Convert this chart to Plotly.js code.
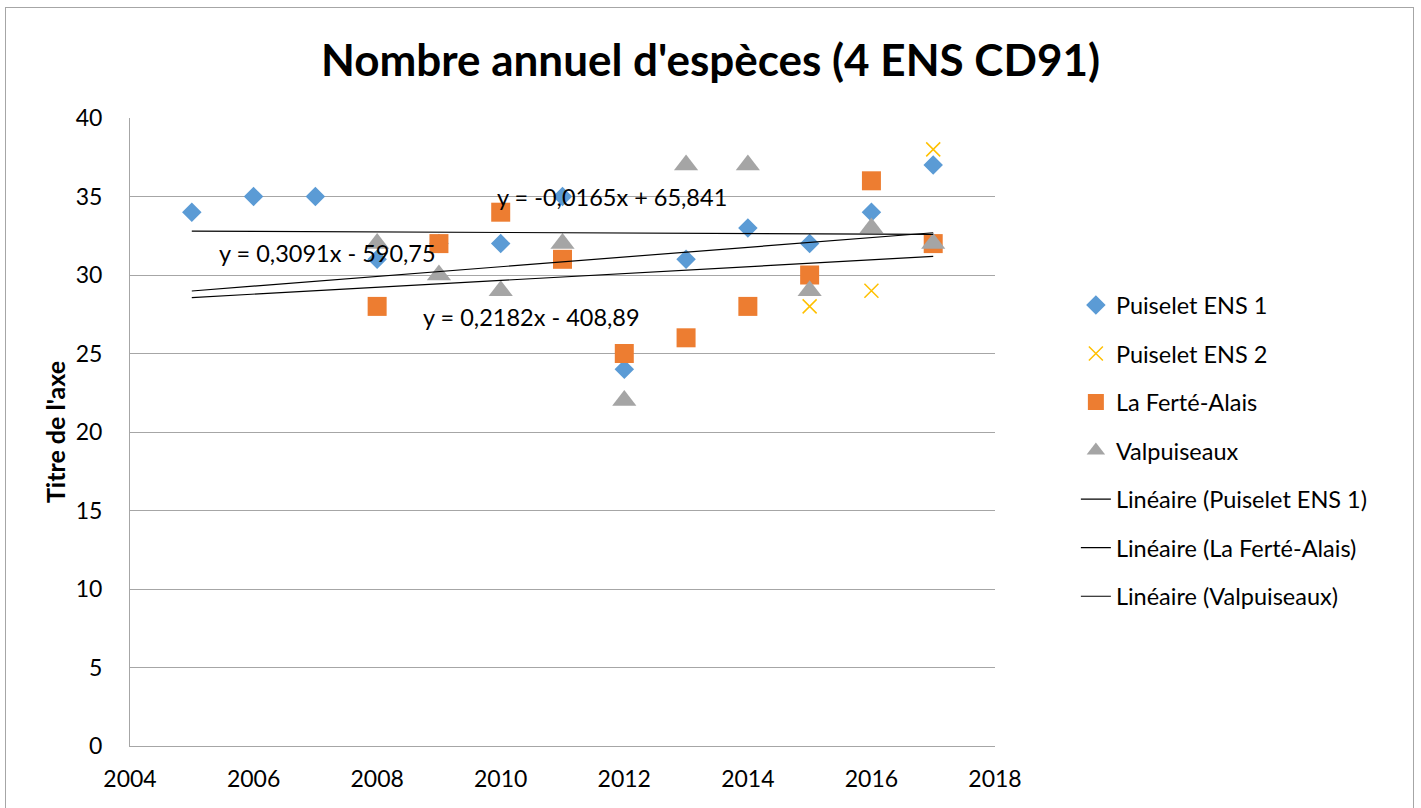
<!DOCTYPE html>
<html>
<head>
<meta charset="utf-8">
<script src="https://cdn.plot.ly/plotly-3.0.1.min.js"></script>
<style>
  html, body { margin: 0; padding: 0; background: #fff; }
  #wrap { position: relative; width: 1421px; height: 808px; }
  #chart { width: 1421px; height: 808px; }
  #frame { position: absolute; left: 5px; top: 7px; width: 1409px; height: 810px;
           border: 1px solid #A6A6A6; pointer-events: none; box-sizing: border-box; }
</style>
</head>
<body>
<div id="wrap">
  <div id="chart"></div>
  <div id="frame"></div>
</div>
<script>
// ---- Data ----
const years = [2005, 2006, 2007, 2008, 2009, 2010, 2011, 2012, 2013, 2014, 2015, 2016, 2017];
const puiseletENS1 = [34, 35, 35, 31, 32, 32, 35, 24, 31, 33, 32, 34, 37];
const puiseletENS2 = [null, null, null, null, null, null, null, null, null, null, 28, 29, 38];
const laFerteAlais = [null, null, null, 28, 32, 34, 31, 25, 26, 28, 30, 36, 32];
const valpuiseaux  = [null, null, null, 32, 30, 29, 32, 22, 37, 37, 29, 33, 32];

const seriesNames = ["Puiselet ENS 1", "Puiselet ENS 2", "La Ferté-Alais", "Valpuiseaux"];
const trendNames = ["Linéaire (Puiselet ENS 1)", "Linéaire (La Ferté-Alais)", "Linéaire (Valpuiseaux)"];
const equationLabels = ["y = -0,0165x + 65,841", "y = 0,3091x - 590,75", "y = 0,2182x - 408,89"];
const yTickVals = [0, 5, 10, 15, 20, 25, 30, 35, 40];
const xTickVals = [2004, 2006, 2008, 2010, 2012, 2014, 2016, 2018];

// ---- Linear regression (least squares, ignoring blanks) ----
function linfit(xs, ys) {
  const px = [], py = [];
  xs.forEach((x, i) => { if (ys[i] !== null) { px.push(x); py.push(ys[i]); } });
  const n = px.length;
  const mx = px.reduce((a, b) => a + b, 0) / n;
  const my = py.reduce((a, b) => a + b, 0) / n;
  let sxy = 0, sxx = 0;
  for (let i = 0; i < n; i++) { sxy += (px[i] - mx) * (py[i] - my); sxx += (px[i] - mx) ** 2; }
  const slope = sxy / sxx;
  return { slope: slope, intercept: my - slope * mx };
}
const xStart = years[0], xEnd = years[years.length - 1];
function trendTrace(ys, name, group) {
  const f = linfit(years, ys);
  return {
    x: [xStart, xEnd],
    y: [f.slope * xStart + f.intercept, f.slope * xEnd + f.intercept],
    type: 'scatter', mode: 'lines', name: name, legendgroup: group,
    line: { color: '#000000', width: 1.2 }, hoverinfo: 'skip'
  };
}

const FONT = 'Lato, "Open Sans", sans-serif';

const traces = [
  { x: years, y: puiseletENS1, type: 'scatter', mode: 'markers', name: seriesNames[0], legendgroup: 'g1',
    marker: { symbol: 'diamond', size: 15, color: '#5B9BD5' } },
  { x: years, y: puiseletENS2, type: 'scatter', mode: 'markers', name: seriesNames[1], legendgroup: 'g2',
    marker: { symbol: 'x-thin-open', size: 14, color: '#FFC000', line: { color: '#FFC000', width: 1.5 } } },
  { x: years, y: laFerteAlais, type: 'scatter', mode: 'markers', name: seriesNames[2], legendgroup: 'g3',
    marker: { symbol: 'square', size: 19, color: '#ED7D31' } },
  { x: years, y: valpuiseaux, type: 'scatter', mode: 'markers', name: seriesNames[3], legendgroup: 'g4',
    marker: { symbol: 'triangle-up', size: 21, color: '#A5A5A5' } },
  trendTrace(puiseletENS1, trendNames[0], 'g5'),
  trendTrace(laFerteAlais, trendNames[1], 'g6'),
  trendTrace(valpuiseaux, trendNames[2], 'g7')
];

const layout = {
  width: 1421, height: 808,
  margin: { l: 130, r: 426, t: 118, b: 62, pad: 0 },
  paper_bgcolor: '#ffffff', plot_bgcolor: '#ffffff',
  font: { family: FONT, size: 23, color: '#000000' },
  title: { text: "<b>Nombre annuel d'espèces (4 ENS CD91)</b>",
           font: { family: FONT, size: 44, color: '#000000' },
           x: 0.5, xanchor: 'center', xref: 'container', y: 0.925, yanchor: 'middle' },
  xaxis: {
    range: [2004, 2018], tickvals: xTickVals, ticktext: xTickVals.map(String),
    showgrid: false, zeroline: false, showline: true, linecolor: '#A6A6A6', linewidth: 1,
    ticks: '', tickfont: { family: FONT, size: 23, color: '#000000' }, ticklabelstandoff: 12
  },
  yaxis: {
    range: [0, 40], tickvals: yTickVals, ticktext: yTickVals.map(String),
    showgrid: true, gridcolor: '#A6A6A6', gridwidth: 1, zeroline: false,
    showline: true, linecolor: '#A6A6A6', linewidth: 1,
    ticks: '', tickfont: { family: FONT, size: 23, color: '#000000' }, ticklabelstandoff: 22,
    title: { text: "<b>Titre de l'axe</b>", font: { family: FONT, size: 25, color: '#000000' }, standoff: 2 }
  },
  showlegend: true,
  legend: {
    x: 1.0935, xanchor: 'left', y: 0.737, yanchor: 'top',
    font: { family: FONT, size: 23.5, color: '#000000' },
    tracegroupgap: 15, bgcolor: 'rgba(0,0,0,0)', borderwidth: 0
  },
  annotations: [
    { x: 2011.8, y: 35, xref: 'x', yref: 'y', text: equationLabels[0], showarrow: false,
      font: { family: FONT, size: 23.5, color: '#000000' } },
    { x: 2007.2, y: 31.4, xref: 'x', yref: 'y', text: equationLabels[1], showarrow: false,
      font: { family: FONT, size: 23.5, color: '#000000' } },
    { x: 2010.5, y: 27.3, xref: 'x', yref: 'y', text: equationLabels[2], showarrow: false,
      font: { family: FONT, size: 23.5, color: '#000000' } }
  ]
};

Plotly.newPlot('chart', traces, layout, { displayModeBar: false, staticPlot: true });
</script>
</body>
</html>
